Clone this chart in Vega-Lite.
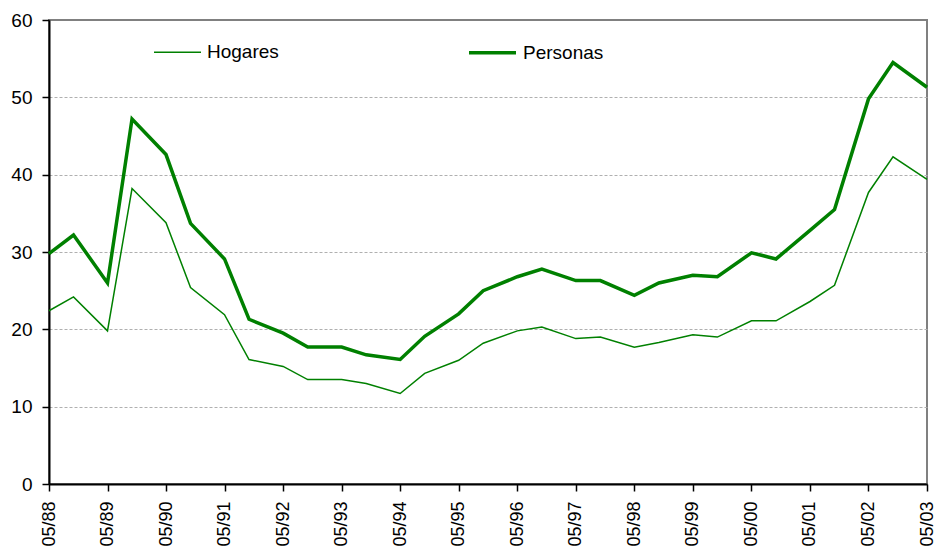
{
  "$schema": "https://vega.github.io/schema/vega-lite/v6.json",
  "width": 878,
  "height": 464,
  "autosize": {"type": "none"},
  "padding": {"left": 49, "top": 20, "right": 9, "bottom": 68},
  "background": "white",
  "config": {
    "view": {"stroke": "#808080", "strokeWidth": 2},
    "font": "Liberation Sans",
    "axis": {"labelFont": "Liberation Sans", "labelColor": "black", "domainColor": "black", "tickColor": "black", "domainWidth": 2, "tickWidth": 1.5, "tickSize": 7}
  },
  "data": {
    "values": [
      {"date": "1988-05-01", "series": "Hogares", "value": 22.4},
      {"date": "1988-10-01", "series": "Hogares", "value": 24.2},
      {"date": "1989-05-01", "series": "Hogares", "value": 19.8},
      {"date": "1989-10-01", "series": "Hogares", "value": 38.2},
      {"date": "1990-05-01", "series": "Hogares", "value": 33.8},
      {"date": "1990-10-01", "series": "Hogares", "value": 25.4},
      {"date": "1991-05-01", "series": "Hogares", "value": 21.9},
      {"date": "1991-10-01", "series": "Hogares", "value": 16.1},
      {"date": "1992-05-01", "series": "Hogares", "value": 15.2},
      {"date": "1992-10-01", "series": "Hogares", "value": 13.5},
      {"date": "1993-05-01", "series": "Hogares", "value": 13.5},
      {"date": "1993-10-01", "series": "Hogares", "value": 13.0},
      {"date": "1994-05-01", "series": "Hogares", "value": 11.7},
      {"date": "1994-10-01", "series": "Hogares", "value": 14.3},
      {"date": "1995-05-01", "series": "Hogares", "value": 16.0},
      {"date": "1995-10-01", "series": "Hogares", "value": 18.2},
      {"date": "1996-05-01", "series": "Hogares", "value": 19.8},
      {"date": "1996-10-01", "series": "Hogares", "value": 20.3},
      {"date": "1997-05-01", "series": "Hogares", "value": 18.8},
      {"date": "1997-10-01", "series": "Hogares", "value": 19.0},
      {"date": "1998-05-01", "series": "Hogares", "value": 17.7},
      {"date": "1998-10-01", "series": "Hogares", "value": 18.3},
      {"date": "1999-05-01", "series": "Hogares", "value": 19.3},
      {"date": "1999-10-01", "series": "Hogares", "value": 19.0},
      {"date": "2000-05-01", "series": "Hogares", "value": 21.1},
      {"date": "2000-10-01", "series": "Hogares", "value": 21.1},
      {"date": "2001-05-01", "series": "Hogares", "value": 23.6},
      {"date": "2001-10-01", "series": "Hogares", "value": 25.7},
      {"date": "2002-05-01", "series": "Hogares", "value": 37.7},
      {"date": "2002-10-01", "series": "Hogares", "value": 42.3},
      {"date": "2003-05-01", "series": "Hogares", "value": 39.4},
      {"date": "1988-05-01", "series": "Personas", "value": 29.8},
      {"date": "1988-10-01", "series": "Personas", "value": 32.2},
      {"date": "1989-05-01", "series": "Personas", "value": 26.0},
      {"date": "1989-10-01", "series": "Personas", "value": 47.2},
      {"date": "1990-05-01", "series": "Personas", "value": 42.6},
      {"date": "1990-10-01", "series": "Personas", "value": 33.7},
      {"date": "1991-05-01", "series": "Personas", "value": 29.1},
      {"date": "1991-10-01", "series": "Personas", "value": 21.3},
      {"date": "1992-05-01", "series": "Personas", "value": 19.5},
      {"date": "1992-10-01", "series": "Personas", "value": 17.7},
      {"date": "1993-05-01", "series": "Personas", "value": 17.7},
      {"date": "1993-10-01", "series": "Personas", "value": 16.7},
      {"date": "1994-05-01", "series": "Personas", "value": 16.1},
      {"date": "1994-10-01", "series": "Personas", "value": 19.1},
      {"date": "1995-05-01", "series": "Personas", "value": 22.0},
      {"date": "1995-10-01", "series": "Personas", "value": 25.0},
      {"date": "1996-05-01", "series": "Personas", "value": 26.8},
      {"date": "1996-10-01", "series": "Personas", "value": 27.8},
      {"date": "1997-05-01", "series": "Personas", "value": 26.3},
      {"date": "1997-10-01", "series": "Personas", "value": 26.3},
      {"date": "1998-05-01", "series": "Personas", "value": 24.4},
      {"date": "1998-10-01", "series": "Personas", "value": 26.0},
      {"date": "1999-05-01", "series": "Personas", "value": 27.0},
      {"date": "1999-10-01", "series": "Personas", "value": 26.8},
      {"date": "2000-05-01", "series": "Personas", "value": 29.9},
      {"date": "2000-10-01", "series": "Personas", "value": 29.1},
      {"date": "2001-05-01", "series": "Personas", "value": 32.8},
      {"date": "2001-10-01", "series": "Personas", "value": 35.5},
      {"date": "2002-05-01", "series": "Personas", "value": 49.8},
      {"date": "2002-10-01", "series": "Personas", "value": 54.5},
      {"date": "2003-05-01", "series": "Personas", "value": 51.3}
    ]
  },
  "mark": {"type": "line", "strokeJoin": "miter", "strokeCap": "butt"},
  "encoding": {
    "x": {
      "field": "date",
      "type": "temporal",
      "scale": {"type": "utc", "domain": [{"year": 1988, "month": 5, "date": 1, "utc": true}, {"year": 2003, "month": 5, "date": 1, "utc": true}], "nice": false},
      "axis": {
        "title": null,
        "labelExpr": "utcFormat(datum.value, '%m/%y')",
        "values": [
          {"year": 1988, "month": 5, "date": 1, "utc": true},
          {"year": 1989, "month": 5, "date": 1, "utc": true},
          {"year": 1990, "month": 5, "date": 1, "utc": true},
          {"year": 1991, "month": 5, "date": 1, "utc": true},
          {"year": 1992, "month": 5, "date": 1, "utc": true},
          {"year": 1993, "month": 5, "date": 1, "utc": true},
          {"year": 1994, "month": 5, "date": 1, "utc": true},
          {"year": 1995, "month": 5, "date": 1, "utc": true},
          {"year": 1996, "month": 5, "date": 1, "utc": true},
          {"year": 1997, "month": 5, "date": 1, "utc": true},
          {"year": 1998, "month": 5, "date": 1, "utc": true},
          {"year": 1999, "month": 5, "date": 1, "utc": true},
          {"year": 2000, "month": 5, "date": 1, "utc": true},
          {"year": 2001, "month": 5, "date": 1, "utc": true},
          {"year": 2002, "month": 5, "date": 1, "utc": true},
          {"year": 2003, "month": 5, "date": 1, "utc": true}
        ],
        "labelAngle": -90,
        "labelFontSize": 18,
        "labelPadding": 10,
        "labelOverlap": false,
        "labelFlush": false,
        "labelBound": false,
        "grid": false
      }
    },
    "y": {
      "field": "value",
      "type": "quantitative",
      "scale": {"domain": [0, 60], "nice": false},
      "axis": {
        "title": null,
        "values": [0, 10, 20, 30, 40, 50, 60],
        "labelFontSize": 19,
        "labelPadding": 10,
        "grid": true,
        "gridColor": "#b0b0b0",
        "gridDash": [3, 2],
        "gridWidth": 1,
        "gridOpacity": {"condition": {"test": "datum.value == 0 || datum.value == 60", "value": 0}, "value": 1}
      }
    },
    "color": {
      "field": "series",
      "type": "nominal",
      "scale": {"domain": ["Hogares", "Personas"], "range": ["#008000", "#008000"]},
      "legend": {
        "title": null,
        "orient": "none",
        "legendX": 104,
        "legendY": 7,
        "direction": "horizontal",
        "symbolType": "stroke",
        "symbolSize": 2209,
        "labelFontSize": 19,
        "labelFont": "Liberation Sans",
        "labelColor": "black",
        "labelOffset": 5,
        "columnPadding": 183
      }
    },
    "strokeWidth": {
      "field": "series",
      "type": "nominal",
      "scale": {"domain": ["Hogares", "Personas"], "range": [1.5, 3.5]},
      "legend": {
        "title": null,
        "orient": "none",
        "legendX": 104,
        "legendY": 7,
        "direction": "horizontal",
        "symbolType": "stroke",
        "symbolSize": 2209,
        "labelFontSize": 19,
        "labelFont": "Liberation Sans",
        "labelColor": "black",
        "labelOffset": 5,
        "columnPadding": 183
      }
    }
  }
}
